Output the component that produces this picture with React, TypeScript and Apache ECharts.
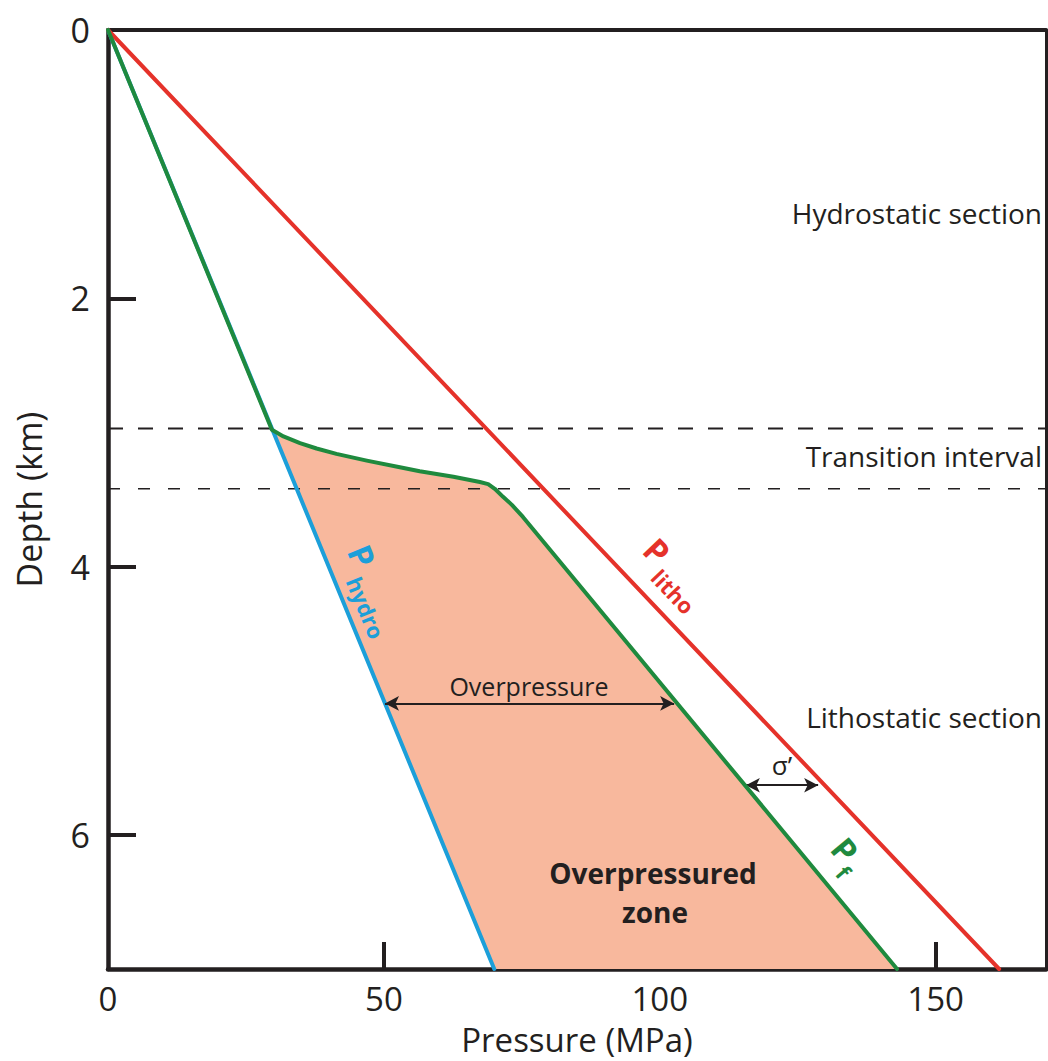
import React, { useEffect, useRef } from "react";
import * as echarts from "echarts";

// ---- data (Pressure in MPa, Depth in km) ----
const xTickLabels = [0, 50, 100, 150];
const xTickMarks = [50, 100, 150];
const yTickLabels = [0, 2, 4, 6];
const yTickMarks = [2, 4, 6];

const pressureMax = 170;
const depthMax = 7;

const lithoLine = [
  [0, 0],
  [161.5, 7],
];
const hydroLine = [
  [0, 0],
  [70, 7],
];
const fluidLine = [
  [0, 0],
  [29.7, 2.98],
  [31.8, 3.03],
  [34.8, 3.08],
  [37.8, 3.12],
  [41.4, 3.16],
  [46.9, 3.21],
  [52.9, 3.26],
  [56.5, 3.29],
  [62.6, 3.33],
  [67.4, 3.37],
  [68.9, 3.385],
  [70.1, 3.42],
  [71.6, 3.48],
  [73.2, 3.54],
  [75.2, 3.63],
  [143, 7],
];
const transitionTop = 2.97;
const transitionBottom = 3.42;
const overpressureArrow = [
  [50.2, 5.02],
  [102.6, 5.02],
];
const sigmaArrow = [
  [115.6, 5.63],
  [128.7, 5.63],
];

// ---- styles ----
const FONT = '"Open Sans", "Noto Sans", sans-serif';
const INK = "#231F20";
const RED = "#E5322A";
const GREEN = "#1F8A3E";
const BLUE = "#1C9FD9";
const FILL = "#F8B89D";

const deg = (d: number) => (d * Math.PI) / 180;

function plainText(text: string, x: number, y: number, size: number, align = "right", weight = "normal") {
  return {
    type: "text",
    x,
    y,
    z: 100,
    silent: true,
    style: {
      text,
      align,
      verticalAlign: "middle",
      fontSize: size,
      fontWeight: weight,
      fontFamily: FONT,
      fill: INK,
    },
  };
}

function subLabel(main: string, sub: string, x: number, y: number, angle: number, color: string, sx: number, sy: number) {
  return {
    type: "group",
    x,
    y,
    rotation: deg(-angle),
    z: 100,
    silent: true,
    children: [
      {
        type: "text",
        x: 0,
        y: 0,
        z: 100,
        style: { text: main, align: "center", verticalAlign: "middle", fontSize: 33, fontWeight: "bold", fontFamily: FONT, fill: color },
      },
      {
        type: "text",
        x: sx,
        y: sy,
        z: 100,
        style: { text: sub, align: "left", verticalAlign: "middle", fontSize: 22, fontWeight: "bold", fontFamily: FONT, fill: color },
      },
    ],
  };
}

export default function App() {
  const ref = useRef<HTMLDivElement>(null);

  useEffect(() => {
    if (!ref.current) return;
    const chart = echarts.init(ref.current, undefined, { renderer: "svg" });

    const kinkIndex = fluidLine.findIndex((p) => p[1] > 2.9);
    const zonePolygon = [...fluidLine.slice(kinkIndex), hydroLine[1]];

    const lineSeries = (name: string, data: number[][], color: string, z: number) => ({
      type: "line",
      name,
      data,
      symbol: "none",
      silent: true,
      z,
      lineStyle: { color, width: 4, cap: "round", join: "round" },
      xAxisIndex: 0,
      yAxisIndex: 0,
    });

    chart.setOption({
      animation: false,
      backgroundColor: "#ffffff",
      textStyle: { fontFamily: FONT },
      grid: { left: 108, right: 2, top: 30, bottom: 92, outerBoundsMode: "none" },
      xAxis: [
        {
          type: "value",
          position: "bottom",
          min: 0,
          max: pressureMax,
          interval: 50,
          name: "Pressure (MPa)",
          nameLocation: "middle",
          nameGap: 52,
          nameTextStyle: { fontSize: 33, color: INK, fontFamily: FONT, lineHeight: 36 },
          axisLine: { show: true, onZero: false, lineStyle: { color: INK, width: 4.5 } },
          axisTick: { show: true, inside: true, length: 27, customValues: xTickMarks, lineStyle: { color: INK, width: 4 } },
          axisLabel: { customValues: xTickLabels, fontSize: 33, color: INK, margin: 11, fontFamily: FONT, lineHeight: 36 },
          splitLine: { show: false },
        },
        {
          type: "value",
          position: "top",
          min: 0,
          max: pressureMax,
          axisLine: { show: true, onZero: false, lineStyle: { color: INK, width: 4 } },
          axisTick: { show: false },
          axisLabel: { show: false },
          splitLine: { show: false },
        },
      ],
      yAxis: [
        {
          type: "value",
          position: "left",
          inverse: true,
          min: 0,
          max: depthMax,
          interval: 1,
          name: "Depth (km)",
          nameLocation: "middle",
          nameGap: 62,
          nameTextStyle: { fontSize: 34, color: INK, fontFamily: FONT },
          axisLine: { show: true, onZero: false, lineStyle: { color: INK, width: 4.5 } },
          axisTick: { show: true, inside: true, length: 28, customValues: yTickMarks, lineStyle: { color: INK, width: 4 } },
          axisLabel: { customValues: yTickLabels, fontSize: 34, color: INK, margin: 18, fontFamily: FONT },
          splitLine: { show: false },
        },
        {
          type: "value",
          position: "right",
          inverse: true,
          min: 0,
          max: depthMax,
          axisLine: { show: true, onZero: false, lineStyle: { color: INK, width: 3 } },
          axisTick: { show: false },
          axisLabel: { show: false },
          splitLine: { show: false },
        },
      ],
      series: [
        {
          type: "custom",
          name: "Overpressured zone",
          coordinateSystem: "cartesian2d",
          xAxisIndex: 0,
          yAxisIndex: 0,
          silent: true,
          z: 1,
          data: [[0, 0]],
          renderItem: (_params: any, api: any) => ({
            type: "polygon",
            shape: { points: zonePolygon.map((p) => api.coord(p)) },
            style: { fill: FILL },
          }),
        },
        {
          type: "line",
          name: "transition top",
          data: [
            [0, transitionTop],
            [pressureMax, transitionTop],
          ],
          symbol: "none",
          silent: true,
          z: 2,
          lineStyle: { color: INK, width: 2, type: [15, 15] },
        },
        {
          type: "line",
          name: "transition bottom",
          data: [
            [0, transitionBottom],
            [pressureMax, transitionBottom],
          ],
          symbol: "none",
          silent: true,
          z: 2,
          lineStyle: { color: INK, width: 1.5, type: [12, 18] },
          markLine: {
            silent: true,
            symbol: ["arrow", "arrow"],
            symbolSize: [11, 14],
            label: { show: false },
            lineStyle: { color: INK, width: 2, type: "solid" },
            data: [
              [{ coord: overpressureArrow[0] }, { coord: overpressureArrow[1] }],
              [{ coord: sigmaArrow[0] }, { coord: sigmaArrow[1] }],
            ],
          },
        },
        lineSeries("Phydro", hydroLine, BLUE, 3),
        lineSeries("Plitho", lithoLine, RED, 4),
        lineSeries("Pf", fluidLine, GREEN, 5),
      ],
      graphic: [
        plainText("Hydrostatic section", 1042, 213, 28),
        plainText("Transition interval", 1042, 456, 28),
        plainText("Lithostatic section", 1042, 717, 28),
        plainText("Overpressure", 529, 686, 25, "center"),
        plainText("σ’", 782, 765, 26, "center"),
        plainText("Overpressured", 653, 873, 28, "center", "bold"),
        plainText("zone", 655, 912, 28, "center", "bold"),
        subLabel("P", "litho", 657, 551, 46.4, RED, 15, 16),
        subLabel("P", "hydro", 362, 556, 67.6, BLUE, 17, 16),
        subLabel("P", "f", 845, 850, 50, GREEN, 12, 15),
      ],
    });

    return () => chart.dispose();
  }, []);

  return <div ref={ref} style={{ position: "absolute", left: 0, top: 0, width: 1048, height: 1061 }} />;
}
